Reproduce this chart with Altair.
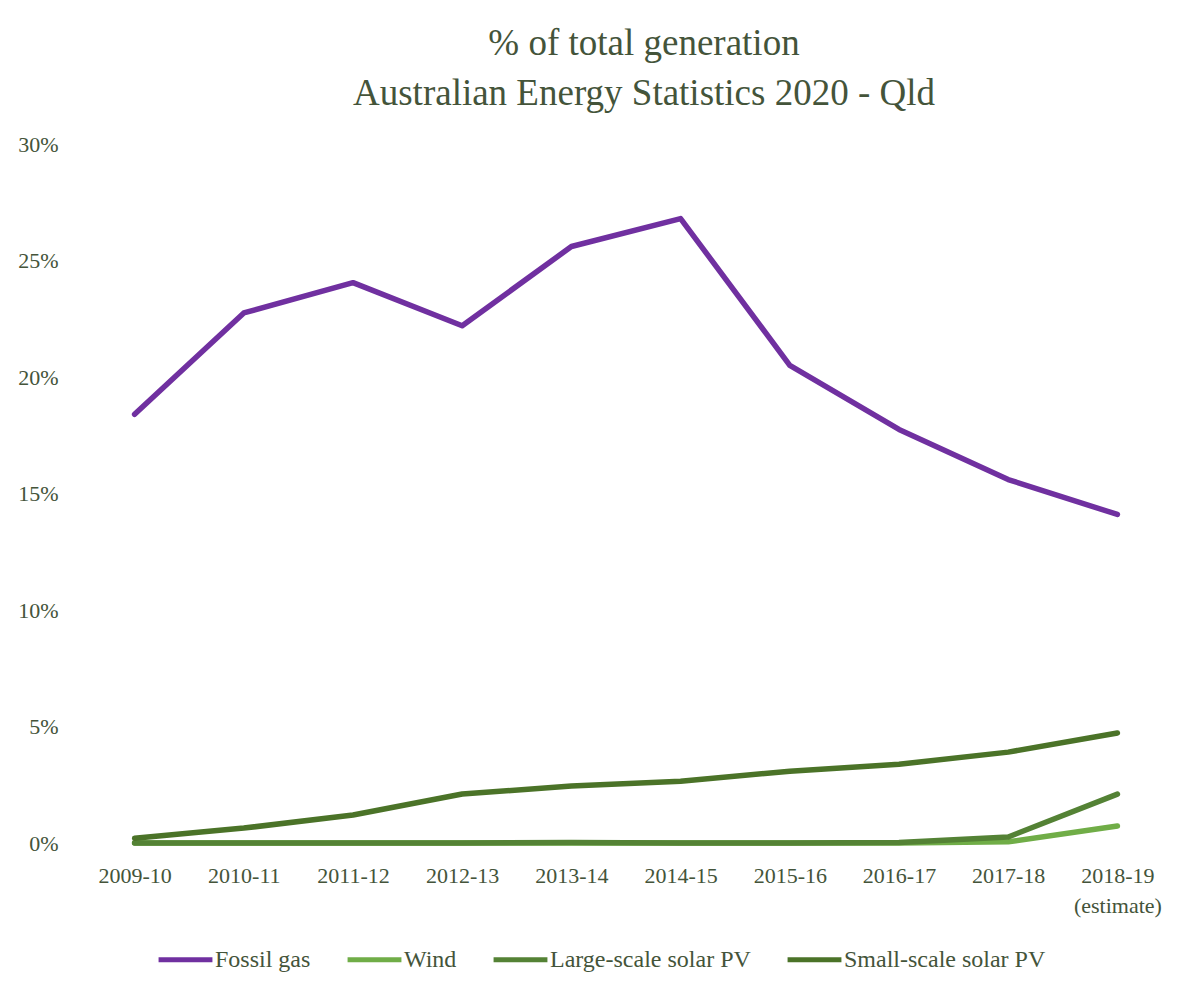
import altair as alt
import pandas as pd

years = ["2009-10", "2010-11", "2011-12", "2012-13", "2013-14", "2014-15",
         "2015-16", "2016-17", "2017-18", "2018-19 (estimate)"]
fossil_gas = [18.4, 22.75, 24.05, 22.2, 25.6, 26.8, 20.5, 17.75, 15.6, 14.1]
wind = [0.0, 0.0, 0.0, 0.0, 0.0, 0.0, 0.0, 0.0, 0.05, 0.73]
large_solar = [0.0, 0.0, 0.0, 0.0, 0.02, 0.0, 0.0, 0.02, 0.26, 2.1]
small_solar = [0.2, 0.64, 1.2, 2.1, 2.45, 2.65, 3.08, 3.38, 3.9, 4.72]

series_names = ["Fossil gas", "Wind", "Large-scale solar PV", "Small-scale solar PV"]
series_colors = ["#7030a0", "#70ad47", "#548235", "#4b7328"]

rows = []
for name, vals in zip(series_names, [fossil_gas, wind, large_solar, small_solar]):
    for i, (y, v) in enumerate(zip(years, vals)):
        rows.append({"year": y, "value": v, "series": name,
                     "order": series_names.index(name)})
df = pd.DataFrame(rows)

FONT = "Liberation Serif"
TXT = "#44543a"

chart = alt.Chart(df).mark_line(strokeWidth=5.5, strokeCap="round", strokeJoin="round").encode(
    x=alt.X("year:N", sort=years, title=None,
            scale=alt.Scale(type="point", padding=0.5),
            axis=alt.Axis(labelAngle=0, ticks=False, domain=False, grid=False,
                          labelExpr="split(datum.label, ' ')",
                          labelFont=FONT, labelFontSize=22, labelColor=TXT,
                          labelPadding=32, labelBaseline="middle", labelLineHeight=30)),
    y=alt.Y("value:Q", title=None,
            scale=alt.Scale(domain=[0, 30], nice=False),
            axis=alt.Axis(values=[0, 5, 10, 15, 20, 25, 30], ticks=False, domain=False,
                          grid=False, labelExpr="datum.value + '%'",
                          labelFont=FONT, labelFontSize=22, labelColor=TXT,
                          labelPadding=22)),
    color=alt.Color("series:N", sort=series_names,
                    scale=alt.Scale(domain=series_names, range=series_colors),
                    legend=alt.Legend(title=None, orient="none", direction="horizontal",
                                      legendX=76, legendY=786,
                                      symbolType="stroke", symbolSize=2900,
                                      symbolStrokeWidth=5, labelOffset=0,
                                      columnPadding=26, labelLimit=0,
                                      labelFont=FONT, labelFontSize=24,
                                      labelColor=TXT)),
    order=alt.Order("order:Q"),
    detail="series:N",
).properties(
    width=1092, height=699,
    padding={"left": 72, "top": 136, "right": 20, "bottom": 140},
    autosize=alt.AutoSizeParams(type="none"),
    title=alt.TitleParams(
        text=["% of total generation", "Australian Energy Statistics 2020 - Qld"],
        font=FONT, fontSize=37, fontWeight="normal", color=TXT,
        anchor="middle", lineHeight=50, offset=20, dx=18),
).configure_view(stroke=None)

chart.save("out.html", embed_options={"renderer": "svg", "actions": False})
